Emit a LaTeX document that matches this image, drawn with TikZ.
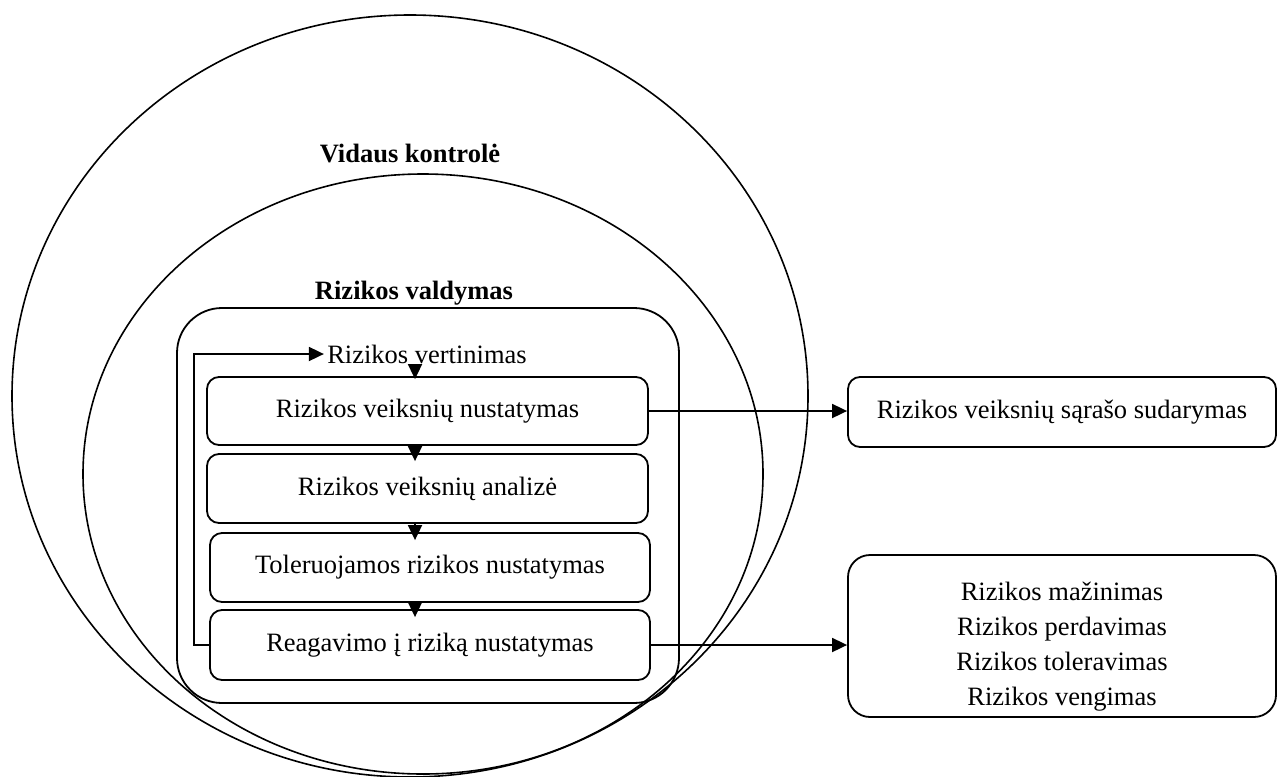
\documentclass[tikz,border=0pt]{standalone}
\usepackage{fontspec}
\setmainfont{Liberation Serif}
\usetikzlibrary{arrows.meta,calc}
\begin{document}
\begin{tikzpicture}[x=0.5pt,y=-0.5pt,
  every node/.style={font=\fontsize{13.25}{17.5}\selectfont},
  frame/.style={draw,line width=0.9pt},
  stepbox/.style={frame,rounded corners=6pt,inner sep=0pt,
    minimum width=220.5pt,minimum height=34.5pt},
  sidebox/.style={frame,rounded corners=6pt,inner sep=0pt,
    minimum width=214pt,align=center},
  heading/.style={font=\fontsize{13.25}{17.5}\selectfont\bfseries,anchor=base},
  arr/.style={line width=0.9pt,-{Triangle[length=7.5pt,width=7pt]}},
  zone/.style={draw,line width=0.8pt}]
\useasboundingbox (0,0) rectangle (1278,776);

% nested areas: internal control and risk management
\draw[zone] (410,396) ellipse [x radius=398, y radius=381];
\draw[zone] (423,474) ellipse [x radius=340, y radius=300];
\node[heading] (vk) at (410,162) {Vidaus kontrolė};
\node[heading] (rv) at (414,299) {Rizikos valdymas};
\node[frame,rounded corners=22.5pt,minimum width=251pt,minimum height=197.5pt,inner sep=0pt]
  (rm) at (428,505.5) {};

% risk assessment steps
\node[inner sep=1.5pt] (vert) at (427,354) {Rizikos vertinimas};
\node[stepbox,minimum height=34pt] (b1) at (427.5,411) {Rizikos veiksnių nustatymas};
\node[stepbox] (b2) at (427.5,488.5) {Rizikos veiksnių analizė};
\node[stepbox,minimum width=220pt] (b3) at (430,567.5) {Toleruojamos rizikos nustatymas};
\node[stepbox,minimum width=220pt,minimum height=35pt] (b4) at (430,645) {Reagavimo į riziką nustatymas};

% results on the right
\node[sidebox,minimum height=35pt] (r1) at (1062,412) {Rizikos veiksnių sąrašo sudarymas};
\node[sidebox,rounded corners=11pt,minimum height=81pt] (r2) at (1062,636)
  {\raisebox{-9pt}[0pt][0pt]{\parbox{200pt}{\centering Rizikos mažinimas\\Rizikos perdavimas\\Rizikos toleravimas\\Rizikos vengimas}}};

% flow
\coordinate (ax) at (415,0);
\draw[arr] (vert.south -| ax) -- ([yshift=-1.5pt]b1.north -| ax);
\draw[arr] (b1.south -| ax) -- ([yshift=-4pt]b2.north -| ax);
\draw[arr] (b2.south -| ax) -- ([yshift=-4pt]b3.north -| ax);
\draw[arr] (b3.south -| ax) -- ([yshift=-4pt]b4.north -| ax);
\draw[arr] (b4.west) -- ++(-15,0) |- (vert.west);
\draw[arr] (b1.east) -- (b1.east -| r1.west);
\draw[arr] (b4.east) -- (b4.east -| r2.west);
\end{tikzpicture}
\end{document}
